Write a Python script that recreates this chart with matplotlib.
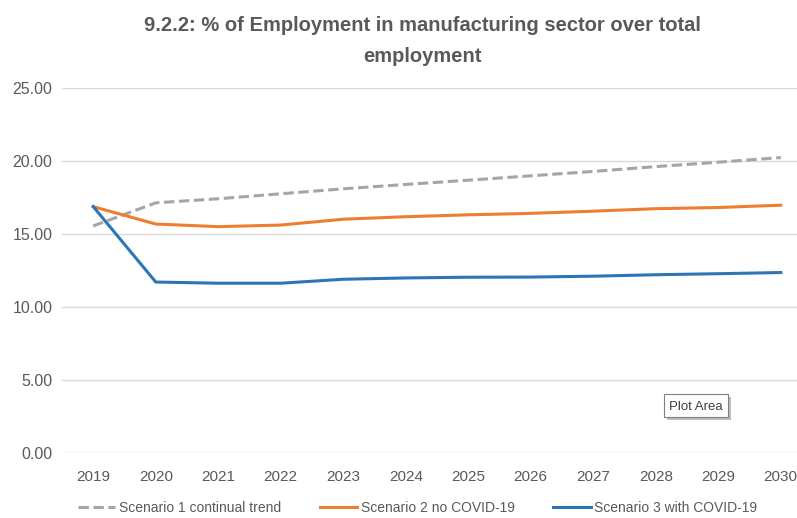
import matplotlib.pyplot as plt
from matplotlib.patches import Rectangle
import numpy as np

# share of manufacturing in total employment, by scenario
years = ['2019', '2020', '2021', '2022', '2023', '2024',
         '2025', '2026', '2027', '2028', '2029', '2030']
trend = [15.54, 17.12, 17.40, 17.74, 18.08, 18.38,
         18.67, 18.97, 19.27, 19.60, 19.90, 20.22]
no_covid = [16.86, 15.67, 15.49, 15.60, 16.00, 16.17,
            16.30, 16.40, 16.55, 16.72, 16.80, 16.96]
with_covid = [16.86, 11.70, 11.62, 11.62, 11.89, 11.98,
              12.03, 12.04, 12.10, 12.20, 12.27, 12.35]
yticks = [0, 5, 10, 15, 20, 25]

txt = '#595959'
plt.rcParams['font.family'] = ['Liberation Sans', 'DejaVu Sans']

W, H = 797, 518
fig = plt.figure(figsize=(W/100, H/100), dpi=100)
ax = fig.add_axes([62/W, 1-453/H, 750/W, (453-87.7)/H])

x = np.arange(len(years))
ax.plot(x, trend, color='#A5A5A5', lw=2.2, dashes=(3.4, 1.5),
        label='Scenario 1 continual trend')
ax.plot(x, no_covid, color='#ED7D31', lw=2.2, label='Scenario 2 no COVID-19')
ax.plot(x, with_covid, color='#2E75B6', lw=2.2, label='Scenario 3 with COVID-19')

ax.set_xlim(-0.5, 11.5)
ax.set_ylim(0, 25)
ax.set_yticks(yticks)
ax.set_yticklabels(['%.2f' % v for v in yticks])
ax.set_xticks(x)
ax.set_xticklabels(years)
ax.tick_params(length=0, colors=txt)
ax.tick_params(axis='x', labelsize=11, pad=12)
ax.tick_params(axis='y', labelsize=11.5, pad=7)
ax.grid(axis='y', color='#D9D9D9', lw=1)
ax.set_axisbelow(True)
for s in ax.spines.values():
    s.set_visible(False)

fig.text(422/W, 1-41/H, '9.2.2: % of Employment in manufacturing sector over total\nemployment',
         ha='center', va='center', fontsize=14.5, fontweight='bold', color=txt,
         linespacing=1.75)

# hover tooltip left over from the spreadsheet, with its drop shadow
bx, by, bw, bh = 664, 394, 64, 23
fig.add_artist(Rectangle(((bx+3)/W, 1-(by+bh+3)/H), bw/W, bh/H,
                         transform=fig.transFigure, fc='#BDBDBD', ec='none'))
fig.add_artist(Rectangle((bx/W, 1-(by+bh)/H), bw/W, bh/H,
                         transform=fig.transFigure, fc='white', ec='#7F7F7F', lw=0.8))
fig.text((bx+bw/2)/W, 1-(by+bh/2+1.5)/H, 'Plot Area', ha='center', va='center',
         fontsize=9.5, color='#404040')

fig.legend(loc='center', bbox_to_anchor=(417.5/W, 1-508/H), ncol=3, frameon=False,
           fontsize=10, labelcolor=txt, handlelength=2.7, handletextpad=0.25,
           columnspacing=2.8)

fig.savefig('out.png', dpi=100)
